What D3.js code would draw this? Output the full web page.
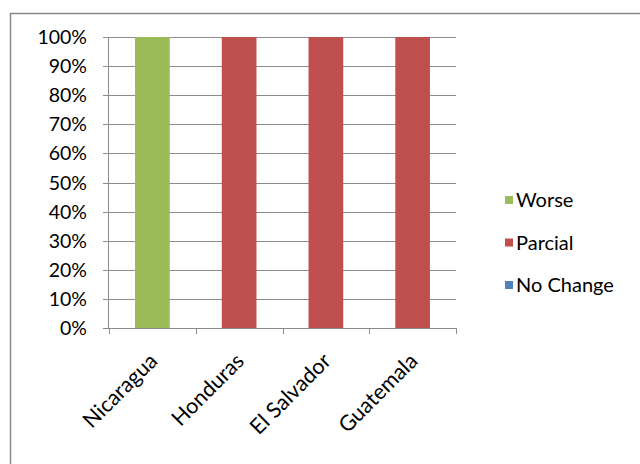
<!DOCTYPE html>
<html><head><meta charset="utf-8">
<script src="https://cdn.jsdelivr.net/npm/d3@7"></script>
<style>body{margin:0;background:#fff}svg text{font-family:Lato,"Open Sans",sans-serif;fill:#000}</style>
</head><body><svg id="c" width="640" height="464"></svg>
<script>
const categories = ["Nicaragua", "Honduras", "El Salvador", "Guatemala"];
const seriesNames = ["No Change", "Parcial", "Worse"];
const noChange = [0, 0, 0, 0];
const parcial = [0, 100, 100, 100];
const worse = [100, 0, 0, 0];
const yTicks = [0, 10, 20, 30, 40, 50, 60, 70, 80, 90, 100];
const colors = {"Worse": "#9BBB59", "Parcial": "#C0504D", "No Change": "#4F81BD"};
const legendOrder = ["Worse", "Parcial", "No Change"];

const rows = categories.map((c, i) => ({cat: c, "No Change": noChange[i], "Parcial": parcial[i], "Worse": worse[i]}));
const stacked = d3.stack().keys(seriesNames).offset(d3.stackOffsetExpand)(rows);

const svg = d3.select("#c");
svg.append("rect").attr("x", 10.5).attr("y", 13.5).attr("width", 640).attr("height", 460)
  .attr("fill", "none").attr("stroke", "#888").attr("stroke-width", 1.5);

const x = d3.scaleBand().domain(categories).range([109, 456]).paddingInner(0.6).paddingOuter(0.3);
const y = d3.scaleLinear().domain([0, 1]).range([328, 37]);

// gridlines
svg.append("g").selectAll("line").data(yTicks).join("line")
  .attr("x1", 103).attr("x2", 456)
  .attr("y1", d => Math.round(y(d / 100)) + 0.5).attr("y2", d => Math.round(y(d / 100)) + 0.5)
  .attr("stroke", "#8c8c8c").attr("stroke-width", 1);

// y labels
svg.append("g").selectAll("text").data(yTicks).join("text")
  .attr("x", 87).attr("y", d => y(d / 100)).attr("dy", "0.36em")
  .attr("text-anchor", "end").attr("font-size", 19.5).text(d => d + "%");

// bars
svg.append("g").selectAll("g").data(stacked).join("g")
  .attr("fill", d => colors[d.key])
  .selectAll("rect").data(d => d).join("rect")
  .attr("x", d => x(d.data.cat)).attr("width", x.bandwidth())
  .attr("y", d => y(d[1])).attr("height", d => y(d[0]) - y(d[1]));

// axes lines
svg.append("line").attr("x1", 108.5).attr("x2", 108.5).attr("y1", 37).attr("y2", 328.5).attr("stroke", "#8c8c8c");
svg.append("line").attr("x1", 103).attr("x2", 456).attr("y1", 328.5).attr("y2", 328.5).attr("stroke", "#8c8c8c");
const tickX = categories.map((c, i) => 109 + i * (347 / categories.length)).concat([456]);
svg.append("g").selectAll("line").data(tickX).join("line")
  .attr("x1", d => Math.round(d) + 0.5).attr("x2", d => Math.round(d) + 0.5)
  .attr("y1", 328).attr("y2", 334).attr("stroke", "#8c8c8c");

// category labels
svg.append("g").selectAll("text").data(categories).join("text")
  .attr("transform", c => `translate(${x(c) + x.bandwidth() / 2 + 1},${357}) rotate(-45)`)
  .attr("text-anchor", "end").attr("dy", "0.35em").attr("font-size", 21.5).text(c => c);

// legend
const lg = svg.append("g").selectAll("g").data(legendOrder).join("g")
  .attr("transform", (d, i) => `translate(505,${200 + i * 42.5})`);
lg.append("rect").attr("x", 0).attr("y", -4).attr("width", 8).attr("height", 8).attr("fill", d => colors[d]);
lg.append("text").attr("x", 11).attr("dy", "0.36em").attr("font-size", 20).text(d => d);
</script></body></html>
